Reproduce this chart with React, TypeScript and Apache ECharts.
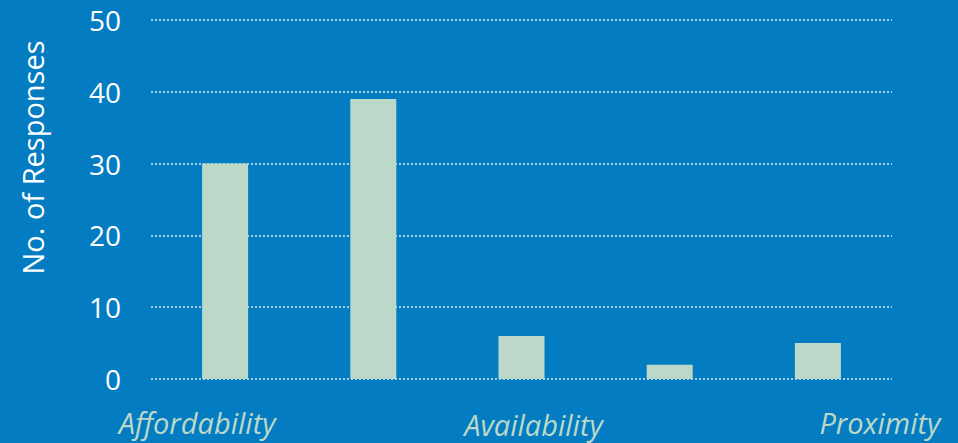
import React, { useEffect, useRef } from "react";
import * as echarts from "echarts";

const categories = ["Affordability", "", "Availability", "", "Proximity"];
const responses = [30, 39, 6, 2, 5];
const yTicks = { min: 0, max: 50, interval: 10 };

export default function App() {
  const ref = useRef<HTMLDivElement>(null);
  useEffect(() => {
    document.body.style.margin = "0";
    const chart = echarts.init(ref.current!, null, { renderer: "svg" });
    const labelFont = { fontFamily: "Open Sans", fontStyle: "italic", fontSize: 29, color: "#BCD8C9" };
    chart.setOption({
      animation: false,
      backgroundColor: "#037CC2",
      grid: { left: 151, right: 66, top: 20, bottom: 64, containLabel: false },
      xAxis: {
        type: "category",
        data: categories,
        axisLine: { show: false },
        axisTick: { show: false },
        axisLabel: {
          interval: 0,
          margin: 29,
          formatter: (v: string, i: number) => (v ? `{l${i}|${v}}` : ""),
          rich: {
            l0: { ...labelFont, padding: [0, 56, 0, 0] },
            l2: { ...labelFont, padding: [2, 0, 0, 24] },
            l4: { ...labelFont, padding: [0, 0, 0, 124] },
          },
        },
      },
      yAxis: {
        type: "value",
        min: yTicks.min,
        max: yTicks.max,
        interval: yTicks.interval,
        name: "No. of Responses",
        nameLocation: "middle",
        nameGap: 104,
        nameRotate: 90,
        nameTextStyle: { color: "#FFFFFF", fontSize: 29, fontFamily: "Open Sans", padding: [0, 0, 0, 84] },
        axisLine: { show: false },
        axisTick: { show: false },
        axisLabel: { color: "#FFFFFF", fontSize: 28, fontFamily: "Open Sans", margin: 30 },
        splitLine: { lineStyle: { color: "#DCE9F4", type: [2, 2], width: 1.5 } },
      },
      series: [
        {
          type: "bar",
          data: responses,
          barWidth: 46,
          itemStyle: { color: "#BCD8C9" },
        },
      ],
    });
    return () => chart.dispose();
  }, []);
  return <div ref={ref} style={{ width: 958, height: 443 }} />;
}
